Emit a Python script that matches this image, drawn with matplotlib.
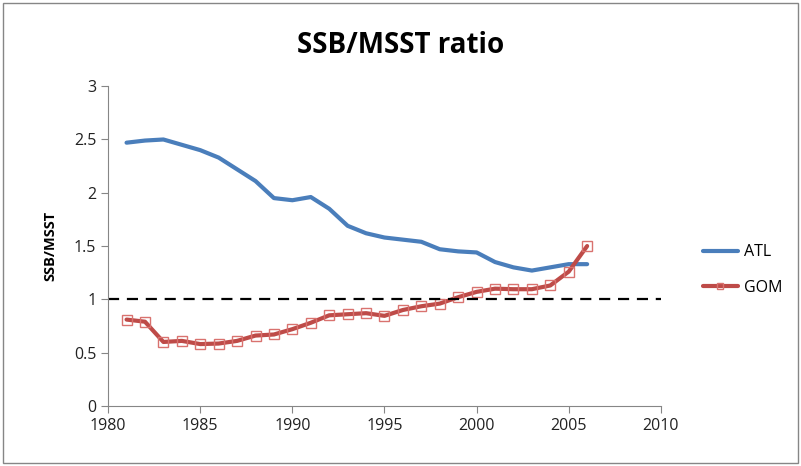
import matplotlib
matplotlib.use("Agg")
import matplotlib.pyplot as plt
from matplotlib.patches import Rectangle

years = list(range(1981, 2007))
atl = [2.47, 2.49, 2.50, 2.45, 2.40, 2.33, 2.22, 2.11, 1.95, 1.93, 1.96, 1.85,
       1.69, 1.62, 1.58, 1.56, 1.54, 1.47, 1.45, 1.44, 1.35, 1.30, 1.27, 1.30,
       1.33, 1.33]
gom = [0.81, 0.79, 0.60, 0.61, 0.58, 0.585, 0.61, 0.66, 0.67, 0.72, 0.78, 0.85,
       0.86, 0.87, 0.845, 0.90, 0.935, 0.96, 1.02, 1.07, 1.10, 1.095, 1.095,
       1.13, 1.26, 1.50]
threshold = 1.0

plt.rcParams['font.family'] = ['Open Sans', 'DejaVu Sans']

fig = plt.figure(figsize=(8.01, 4.66), dpi=100)
ax = fig.add_axes([0.135, 0.129, 0.69, 0.686])

ax.plot(years, atl, color='#4a7ebb', lw=3, solid_joinstyle='round',
        solid_capstyle='round', label='ATL')
ax.plot(years, gom, color='#be4b48', lw=3, solid_joinstyle='round',
        solid_capstyle='round', marker='s', markersize=7,
        markerfacecolor='none', markeredgecolor='#d9726f', markeredgewidth=1,
        label='GOM')
ax.axhline(threshold, color='black', lw=1.6, dashes=(5, 3.5))

ax.set_xlim(1980, 2010)
ax.set_ylim(0, 3)
ax.set_xticks(range(1980, 2011, 5))
ax.set_yticks([0, 0.5, 1, 1.5, 2, 2.5, 3])
ax.set_yticklabels(['0', '0.5', '1', '1.5', '2', '2.5', '3'])
for s in ['top', 'right']:
    ax.spines[s].set_visible(False)
for s in ['left', 'bottom']:
    ax.spines[s].set_color('#868686')
ax.tick_params(colors='#868686', labelcolor='#222222', labelsize=11.5,
               length=5, direction='out')
ax.set_ylabel('SSB/MSST', fontsize=10.5, fontweight='bold', labelpad=12)

fig.text(0.5, 0.903, 'SSB/MSST ratio', ha='center', va='center',
         fontsize=20, fontweight='bold')

ax.legend(loc='center left', bbox_to_anchor=(1.05, 0.425), frameon=False,
          fontsize=11.5, handlelength=2.2, handletextpad=0.4,
          labelspacing=1.2, markerscale=0.6)

fig.patches.append(Rectangle((0.004, 0.006), 0.992, 0.988, fill=False,
                             edgecolor='#868686', lw=1,
                             transform=fig.transFigure))

fig.savefig('out.png', dpi=100)
